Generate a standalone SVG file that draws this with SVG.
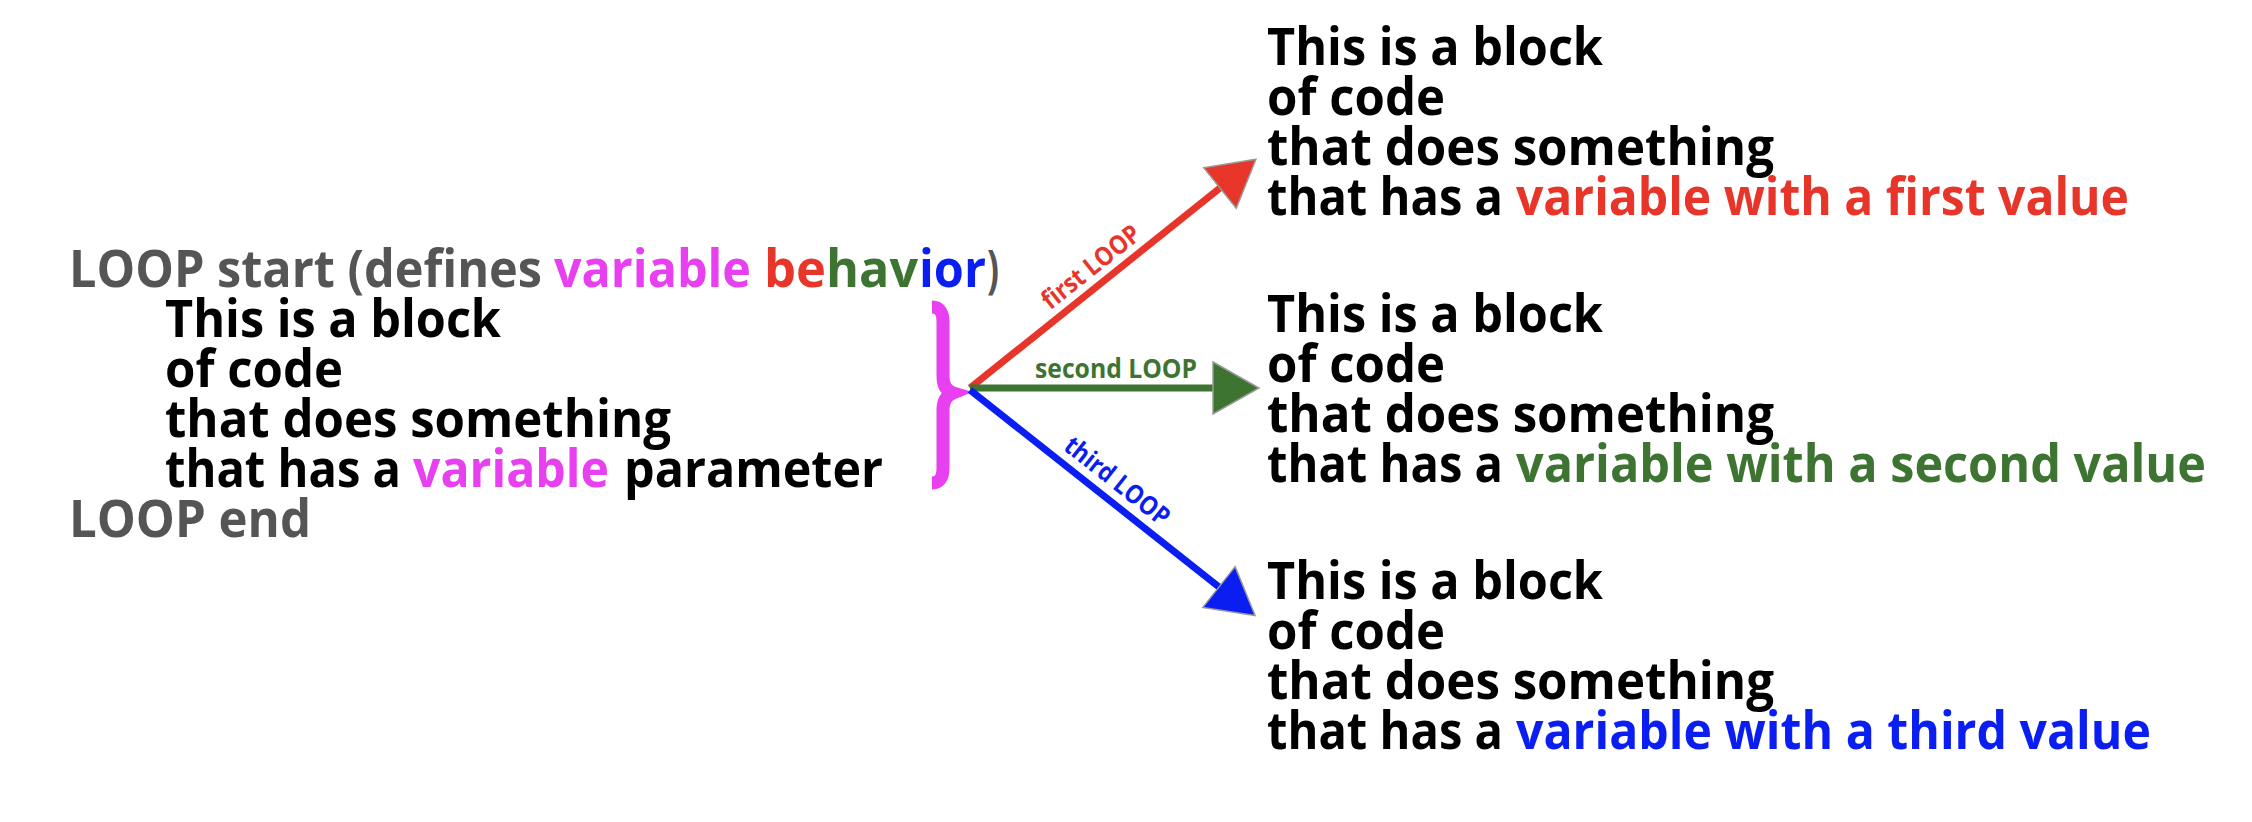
<svg xmlns="http://www.w3.org/2000/svg" width="2252" height="822" viewBox="0 0 2252 822">
<style>
text{font-family:"Open Sans","Liberation Sans",sans-serif;font-weight:700;}
.t{font-size:52px;}
.lb{font-size:26px;}
.k{fill:#000;}
.g{fill:#555555;}
.p{fill:#e83ff0;}
.r{fill:#e8352a;}
.gr{fill:#3e7431;}
.b{fill:#0a1ef2;}
.ln{stroke-width:7;fill:none;}
</style>
<defs>
<marker id="mr" markerUnits="userSpaceOnUse" markerWidth="50" markerHeight="56" viewBox="0 0 50 56" refX="1" refY="28" orient="auto"><polygon points="1,2 47,28 1,54" fill="#e8352a" stroke="#999" stroke-width="1.5"/></marker>
<marker id="mg" markerUnits="userSpaceOnUse" markerWidth="50" markerHeight="56" viewBox="0 0 50 56" refX="1" refY="28" orient="auto"><polygon points="1,2 47,28 1,54" fill="#3e7431" stroke="#999" stroke-width="1.5"/></marker>
<marker id="mb" markerUnits="userSpaceOnUse" markerWidth="50" markerHeight="56" viewBox="0 0 50 56" refX="1" refY="28" orient="auto"><polygon points="1,2 47,28 1,54" fill="#0a1ef2" stroke="#999" stroke-width="1.5"/></marker>
</defs>
<rect width="2252" height="822" fill="#fff"/>

<g id="loop">
<text class="t g" x="69" y="287" textLength="473" lengthAdjust="spacingAndGlyphs">LOOP start (defines</text>
<text class="t p" x="554" y="287" textLength="197" lengthAdjust="spacingAndGlyphs">variable</text>
<text class="t r" x="764" y="287" textLength="62" lengthAdjust="spacingAndGlyphs">be</text>
<text class="t gr" x="826" y="287" textLength="92" lengthAdjust="spacingAndGlyphs">hav</text>
<text class="t b" x="919" y="287" textLength="67" lengthAdjust="spacingAndGlyphs">ior</text>
<text class="t g" x="987" y="287" textLength="12" lengthAdjust="spacingAndGlyphs">)</text>
<text class="t k" x="165" y="337" textLength="336" lengthAdjust="spacingAndGlyphs">This is a block</text>
<text class="t k" x="165" y="387" textLength="178" lengthAdjust="spacingAndGlyphs">of code</text>
<text class="t k" x="165" y="437" textLength="506" lengthAdjust="spacingAndGlyphs">that does something</text>
<text class="t k" x="165" y="487" textLength="236" lengthAdjust="spacingAndGlyphs">that has a</text>
<text class="t p" x="413" y="487" textLength="196" lengthAdjust="spacingAndGlyphs">variable</text>
<text class="t k" x="624" y="487" textLength="259" lengthAdjust="spacingAndGlyphs">parameter</text>
<text class="t g" x="69" y="537" textLength="242" lengthAdjust="spacingAndGlyphs">LOOP end</text>
</g>

<g id="brace">
<path d="M932 307 Q943 307 943 322 L943 376 Q943 390 953 393 Q943 397 943 410 L943 468 Q943 483 932 483" fill="none" stroke="#e83ff0" stroke-width="13"/>
</g>

<g id="block1">
<text class="t k" x="1267" y="65" textLength="336" lengthAdjust="spacingAndGlyphs">This is a block</text>
<text class="t k" x="1267" y="115" textLength="178" lengthAdjust="spacingAndGlyphs">of code</text>
<text class="t k" x="1267" y="165" textLength="507" lengthAdjust="spacingAndGlyphs">that does something</text>
<text class="t k" x="1267" y="215" textLength="236" lengthAdjust="spacingAndGlyphs">that has a</text>
<text class="t r" x="1516" y="215" textLength="613" lengthAdjust="spacingAndGlyphs">variable with a first value</text>
</g>

<g id="block2">
<text class="t k" x="1267" y="332" textLength="336" lengthAdjust="spacingAndGlyphs">This is a block</text>
<text class="t k" x="1267" y="382" textLength="178" lengthAdjust="spacingAndGlyphs">of code</text>
<text class="t k" x="1267" y="432" textLength="507" lengthAdjust="spacingAndGlyphs">that does something</text>
<text class="t k" x="1267" y="482" textLength="236" lengthAdjust="spacingAndGlyphs">that has a</text>
<text class="t gr" x="1516" y="482" textLength="690" lengthAdjust="spacingAndGlyphs">variable with a second value</text>
</g>

<g id="block3">
<text class="t k" x="1267" y="599" textLength="336" lengthAdjust="spacingAndGlyphs">This is a block</text>
<text class="t k" x="1267" y="649" textLength="178" lengthAdjust="spacingAndGlyphs">of code</text>
<text class="t k" x="1267" y="699" textLength="507" lengthAdjust="spacingAndGlyphs">that does something</text>
<text class="t k" x="1267" y="749" textLength="236" lengthAdjust="spacingAndGlyphs">that has a</text>
<text class="t b" x="1516" y="749" textLength="635" lengthAdjust="spacingAndGlyphs">variable with a third value</text>
</g>

<g id="connectors">
<line class="ln" x1="970" y1="388" x2="1220" y2="188" stroke="#e8352a" marker-end="url(#mr)"/>
<line class="ln" x1="970" y1="388" x2="1213" y2="388" stroke="#3e7431" marker-end="url(#mg)"/>
<line class="ln" x1="970" y1="390" x2="1219" y2="587" stroke="#0a1ef2" marker-end="url(#mb)"/>
<text class="lb r" transform="translate(970,388) rotate(-38.4)" x="170" y="-11" text-anchor="middle" textLength="118" lengthAdjust="spacingAndGlyphs">first LOOP</text>
<text class="lb gr" x="1035" y="378" textLength="162" lengthAdjust="spacingAndGlyphs">second LOOP</text>
<text class="lb b" transform="translate(970,390) rotate(38.3)" x="172" y="-11" text-anchor="middle" textLength="126" lengthAdjust="spacingAndGlyphs">third LOOP</text>
</g>
</svg>
